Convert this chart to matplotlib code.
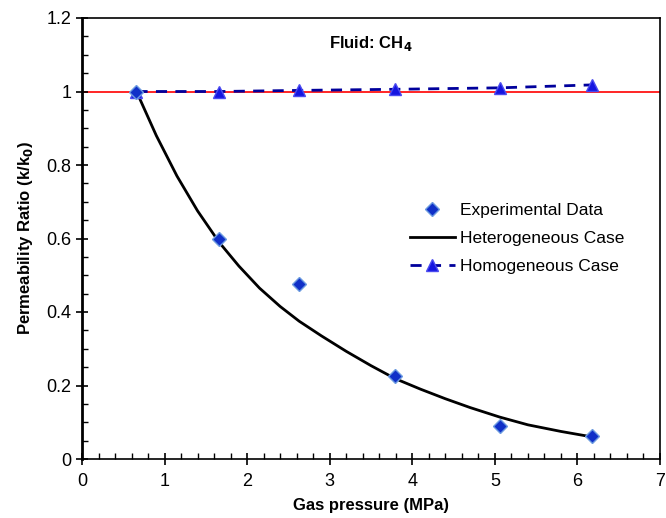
import matplotlib.pyplot as plt
from matplotlib.ticker import MultipleLocator

plt.rcParams['font.family'] = ['Liberation Sans', 'DejaVu Sans']

# Experimental points
exp_p = [0.66, 1.66, 2.63, 3.79, 5.06, 6.18]
exp_k = [1.0, 0.60, 0.476, 0.226, 0.09, 0.062]

# Homogeneous case
hom_p = [0.66, 1.66, 2.63, 3.79, 5.06, 6.18]
hom_k = [1.0, 1.0, 1.003, 1.006, 1.01, 1.018]

# Heterogeneous case (curve)
het_p = [0.66, 0.9, 1.15, 1.4, 1.66, 1.9, 2.15, 2.4, 2.63, 2.9, 3.2, 3.5, 3.79,
         4.1, 4.4, 4.7, 5.06, 5.4, 5.8, 6.18]
het_k = [1.0, 0.88, 0.77, 0.675, 0.59, 0.525, 0.465, 0.415, 0.375, 0.335, 0.293,
         0.254, 0.219, 0.19, 0.164, 0.14, 0.114, 0.093, 0.075, 0.06]

yticks = [0, 0.2, 0.4, 0.6, 0.8, 1.0, 1.2]
ylabels = ['0', '0.2', '0.4', '0.6', '0.8', '1', '1.2']

fig = plt.figure(figsize=(6.66, 5.18), dpi=100)
ax = fig.add_axes([82/666, 1 - 459/518, (660 - 82)/666, (459 - 18)/518])

# Reference line at k/k0 = 1
ax.axhline(1.0, color='red', lw=1.2, zorder=1)

ax.plot(het_p, het_k, color='black', lw=2, label='Heterogeneous Case', zorder=3)
ax.plot(hom_p, hom_k, color='#00009c', lw=2, ls=(0, (4, 3)), marker='^', ms=8,
        mfc='#1515e0', mec='#4a4af0', label='Homogeneous Case', zorder=4)
ax.plot(exp_p, exp_k, ls='none', marker='D', ms=7, mfc='#1030c8', mec='#6c9be0',
        mew=1, label='Experimental Data', zorder=5)

ax.set_xlim(0, 7)
ax.set_ylim(0, 1.2)
ax.set_xticks(range(8))
ax.xaxis.set_minor_locator(MultipleLocator(0.2))
ax.set_yticks(yticks)
ax.set_yticklabels(ylabels)
ax.yaxis.set_minor_locator(MultipleLocator(0.05))
ax.tick_params(which='major', direction='inout', length=8, width=1.2, labelsize=13)
ax.tick_params(which='minor', direction='in', length=4, width=1)
ax.tick_params(axis='x', pad=6)
for s in ax.spines.values():
    s.set_linewidth(1.2)
ax.spines['left'].set_linewidth(2)

ax.set_xlabel('Gas pressure (MPa)', fontsize=12, fontweight='bold', labelpad=6)
ax.set_ylabel('Permeability Ratio (k/k$_\\mathbf{0}$)', fontsize=12, fontweight='bold', labelpad=8)
ax.text(3.5, 1.13, 'Fluid: CH$_\\mathbf{4}$', fontsize=12, fontweight='bold', ha='center', va='center')

h, l = ax.get_legend_handles_labels()
order = [2, 0, 1]
ax.legend([h[i] for i in order], [l[i] for i in order], loc='center left',
          bbox_to_anchor=(0.54, 0.5), frameon=False, fontsize=12.5,
          handlelength=2.6, handletextpad=0.3, labelspacing=0.75)

fig.savefig('out.png', dpi=100)
